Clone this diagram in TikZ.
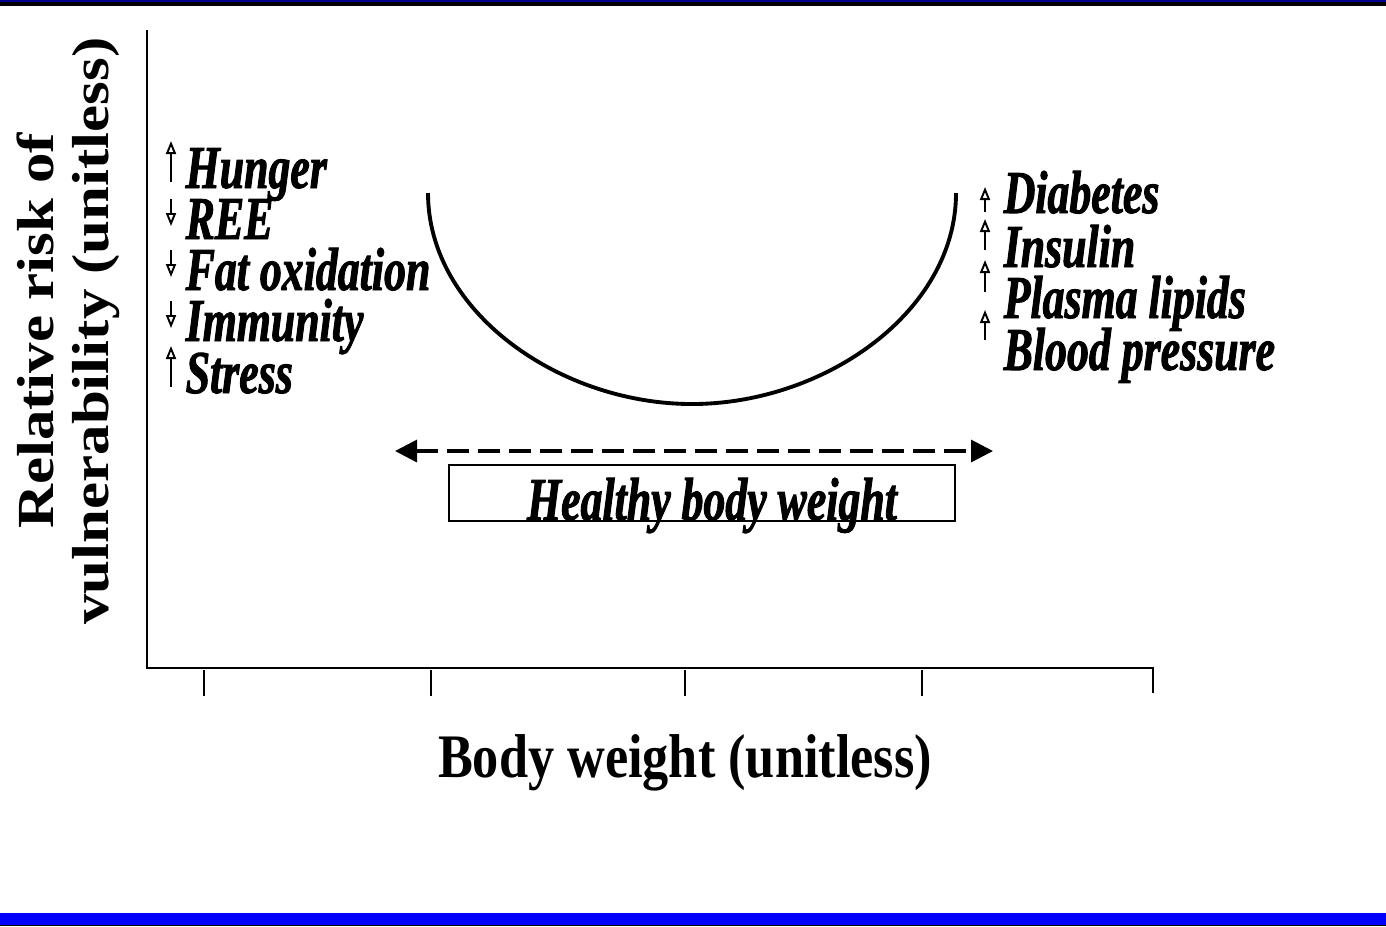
\documentclass[tikz,border=0pt]{standalone}
\usepackage{fontspec}
\setmainfont{Liberation Serif}
\IfFontExistsTF{LiberationSerif-BoldItalic.ttf}
  {\newfontface\itemfont[FakeStretch=0.72,FakeBold=1.5]{LiberationSerif-BoldItalic.ttf}}
  {\newfontface\itemfont[FakeStretch=0.75,FakeBold=2.5]{Liberation Serif Italic}}
\newfontfamily\yaxfont[FakeStretch=1.17]{Liberation Serif}
\newfontfamily\xaxfont[FakeStretch=0.845]{Liberation Serif}
\usetikzlibrary{arrows.meta,positioning}
\definecolor{topbar}{RGB}{0,0,140}
\definecolor{botbar}{RGB}{0,0,255}
\tikzstyle{item}=[inner sep=0pt,anchor=base west,font=\itemfont\fontsize{17.3}{18}\selectfont]
\tikzstyle{tinyarr}=[-{Triangle[open,length=0.13cm,width=0.1cm]},line width=0.55pt]
\tikzstyle{axis}=[line width=0.8pt]
\tikzstyle{tick}=[line width=0.6pt]
\tikzstyle{ucurve}=[line width=1.1pt]
\tikzstyle{rangearr}=[{Triangle[length=0.22cm,width=0.22cm]}-{Triangle[length=0.22cm,width=0.22cm]},line width=0.9pt,dash pattern=on 0.22cm off 0.09cm]
\tikzstyle{hbox}=[rectangle,draw,line width=0.55pt,minimum width=5.06cm,minimum height=0.56cm,inner sep=0pt]
\begin{document}
\begin{tikzpicture}[x=0.01cm,y=-0.01cm]
\useasboundingbox (0,0) rectangle (1386,926);
% slide bars
\fill[topbar] (0,0) rectangle (1386,1.7);
\fill[black] (0,1.7) rectangle (1386,5.7);
\fill[botbar] (0,912.5) rectangle (1386,925);
\fill[black] (0,925) rectangle (1386,926);
% axes
\coordinate (ytop) at (147,30);
\coordinate (orig) at (147,668);
\coordinate (xend) at (1154,668);
\draw[axis] (ytop) -- (orig) -- (xend);
\draw[tick] (204,670) -- (204,696);
\draw[tick] (431,670) -- (431,696);
\draw[tick] (685,670) -- (685,696);
\draw[tick] (922,670) -- (922,696);
\draw[tick] (1153,668) -- (1153,693);
\node[rotate=90,align=center,inner sep=0pt,font=\yaxfont\bfseries\fontsize{14.8}{15.6}\selectfont] (ylab) at (68,331) {Relative risk of\\vulnerability (unitless)};
\node[anchor=base,inner sep=0pt,font=\xaxfont\bfseries\fontsize{17.6}{18}\selectfont] (xlab) at (685,777) {Body weight (unitless)};
% U curve
\draw[ucurve] (428,193) .. controls (428,312) and (560,404) .. (692,404)
  .. controls (824,404) and (956,312) .. (956,193);
% healthy range
\coordinate (rngL) at (395,451);
\coordinate (rngR) at (993,451);
\draw[rangearr] (rngL) -- (rngR);
\node[hbox] (range) at (702,493) {};
\node[item,anchor=base] (healthy) at (712,520) {Healthy body weight};
% underweight effects
\node[item] (hunger) at (185,188) {Hunger};
\node[item] (ree) at (185,239) {REE};
\node[item] (fatox) at (185,290) {Fat oxidation};
\node[item] (immun) at (185,341) {Immunity};
\node[item] (stress) at (185,393) {Stress};
\draw[tinyarr] ([shift={(-14,-6)}]hunger.base west) -- ++(0,-41);
\draw[tinyarr] ([shift={(-14,-40)}]ree.base west) -- ++(0,27);
\draw[tinyarr] ([shift={(-14,-40)}]fatox.base west) -- ++(0,27);
\draw[tinyarr] ([shift={(-14,-40)}]immun.base west) -- ++(0,27);
\draw[tinyarr] ([shift={(-14,-6)}]stress.base west) -- ++(0,-41);
% overweight effects
\node[item] (diab) at (1003,213) {Diabetes};
\node[item] (insul) at (1003,267) {Insulin};
\node[item] (lipid) at (1003,318) {Plasma lipids};
\node[item] (bp) at (1003,370) {Blood pressure};
\draw[tinyarr] ([shift={(-18,-1)}]diab.base west) -- ++(0,-25);
\draw[tinyarr] ([shift={(-18,-17)}]insul.base west) -- ++(0,-31);
\draw[tinyarr] ([shift={(-18,-26)}]lipid.base west) -- ++(0,-32);
\draw[tinyarr] ([shift={(-18,-30)}]bp.base west) -- ++(0,-30);
\end{tikzpicture}
\end{document}
